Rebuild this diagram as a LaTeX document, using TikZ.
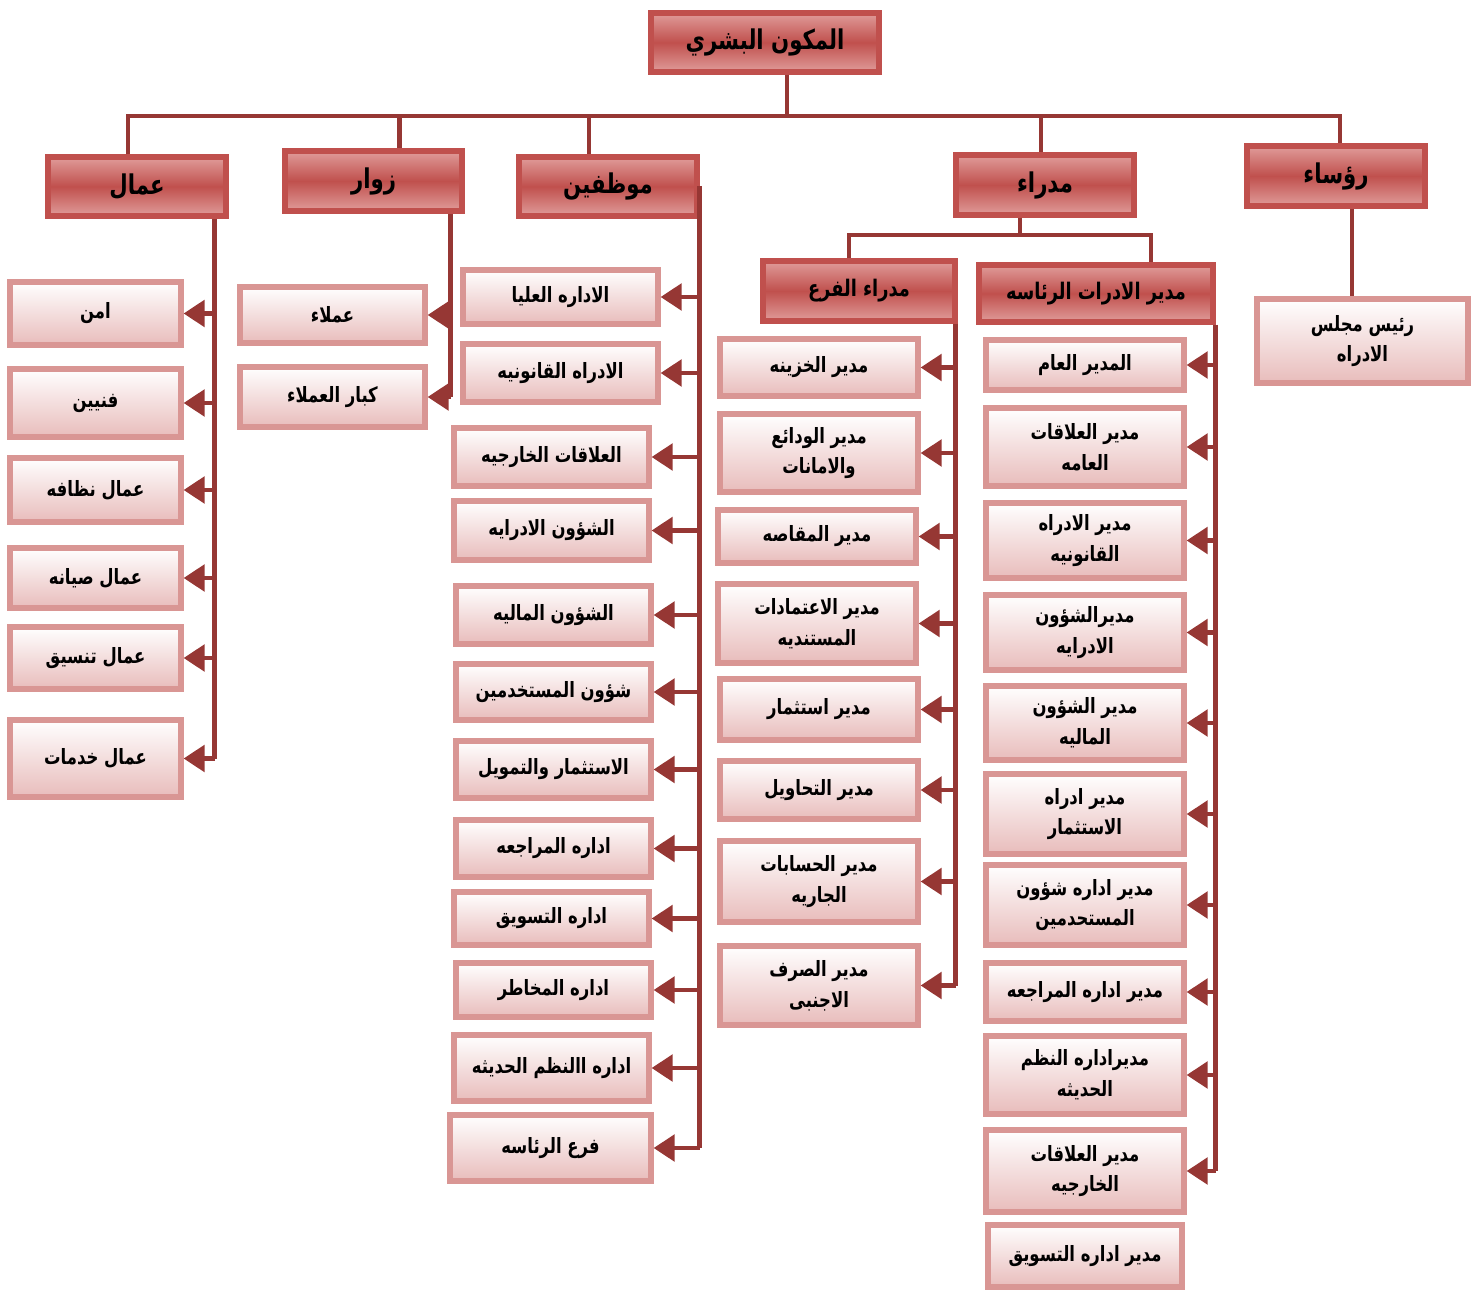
\documentclass[tikz,border=0pt]{standalone}
\usepackage{fontspec}
\newfontfamily\arabicfont[Script=Arabic, FakeStretch=0.78]{DejaVu Sans}
\TeXXeTstate=1
\usetikzlibrary{arrows.meta, calc, positioning}
\definecolor{HeadRed}{RGB}{192,80,77}
\definecolor{HeadLight}{RGB}{224,156,154}
\definecolor{LinkRed}{RGB}{150,55,52}
\definecolor{ChildEdge}{RGB}{217,150,148}
\definecolor{ChildFill}{RGB}{232,188,187}
\newcommand{\rtl}[1]{\beginR #1\endR}

\tikzset{
  head/.style={draw=HeadRed, line width=3pt, top color=HeadLight, bottom color=HeadLight,
    middle color=HeadRed, align=center, inner sep=1pt,
    font=\arabicfont\bfseries\fontsize{15.5}{20}\selectfont},
  subhead/.style={head, font=\arabicfont\bfseries\fontsize{13}{16}\selectfont},
  child/.style={draw=ChildEdge, line width=3pt, top color=white, bottom color=ChildFill,
    align=center, inner sep=1pt,
    font=\arabicfont\bfseries\fontsize{12}{17.5}\selectfont},
  sz/.style 2 args={minimum width=#1*0.02cm, minimum height=#2*0.02cm},
  link/.style={LinkRed, line width=2.8pt, line join=miter},
  arrowlink/.style={link, -{Triangle[length=12pt,width=15pt]}}
}

\begin{document}
\begin{tikzpicture}[x=0.02cm, y=-0.02cm]

    \useasboundingbox (0,0) rectangle (1481,1290);

    % top box
    \node[head, sz={228}{59}] (root) at (765,42.5) {\rtl{المكون البشري}};

    % first row
    \node[head, sz={178}{59}] (amal) at (137,186.5) {\rtl{عمال}};
    \node[head, sz={177}{60}] (zuwar) at (373.5,181) {\rtl{زوار}};
    \node[head, sz={178}{59}] (muwaz) at (608,186.5) {\rtl{موظفين}};
    \node[head, sz={178}{60}] (mudara) at (1045,185) {\rtl{مدراء}};
    \node[head, sz={178}{60}] (ruasa) at (1336,176) {\rtl{رؤساء}};

    % managers split
    \node[subhead, sz={192}{60}] (far) at (859,291) {\rtl{مدراء الفرع}};
    \node[subhead, sz={234}{57}] (riasa) at (1096,293.5) {\rtl{مدير الادرات الرئاسه}};

    % heads
    \node[child, sz={211}{84}] (raees) at (1362.5,341) {\rtl{رئيس مجلس}\\\rtl{الادراه}};

    % workers
    \node[child, sz={171}{63}] (amn) at (95.5,313.5) {\rtl{امن}};
    \node[child, sz={171}{68}] (fanni) at (95.5,403) {\rtl{فنيين}};
    \node[child, sz={171}{64}] (nazafa) at (95.5,490) {\rtl{عمال نظافه}};
    \node[child, sz={171}{60}] (siyana) at (95.5,578) {\rtl{عمال صيانه}};
    \node[child, sz={171}{62}] (tanseeq) at (95.5,658) {\rtl{عمال تنسيق}};
    \node[child, sz={171}{77}] (khadamat) at (95.5,758.5) {\rtl{عمال خدمات}};

    % visitors
    \node[child, sz={185}{56}] (umala) at (332.5,315) {\rtl{عملاء}};
    \node[child, sz={185}{60}] (kibar) at (332.5,397) {\rtl{كبار العملاء}};

    % staff
    \node[child, sz={195}{54}] (ulya) at (560.5,297) {\rtl{الاداره العليا}};
    \node[child, sz={195}{58}] (qanun) at (560.5,373) {\rtl{الادراه القانونيه}};
    \node[child, sz={195}{58}] (kharij) at (551.5,457) {\rtl{العلاقات الخارجيه}};
    \node[child, sz={195}{59}] (idari) at (551.5,530.5) {\rtl{الشؤون الادرايه}};
    \node[child, sz={195}{58}] (mali) at (553.5,615) {\rtl{الشؤون الماليه}};
    \node[child, sz={195}{56}] (mustakh) at (553.5,692) {\rtl{شؤون المستخدمين}};
    \node[child, sz={195}{57}] (tamweel) at (553.5,769.5) {\rtl{الاستثمار والتمويل}};
    \node[child, sz={195}{57}] (muraja) at (553.5,848.5) {\rtl{اداره المراجعه}};
    \node[child, sz={195}{53}] (taswiq) at (551.5,918.5) {\rtl{اداره التسويق}};
    \node[child, sz={195}{54}] (makhatir) at (553.5,990) {\rtl{اداره المخاطر}};
    \node[child, sz={195}{66}] (nuzum) at (551.5,1068) {\rtl{اداره االنظم الحديثه}};
    \node[child, sz={201}{66}] (far3) at (550.5,1148) {\rtl{فرع الرئاسه}};

    % branch managers
    \node[child, sz={198}{57}] (khazina) at (819,367.5) {\rtl{مدير الخزينه}};
    \node[child, sz={198}{78}] (wadai) at (819,453) {\rtl{مدير الودائع}\\\rtl{والامانات}};
    \node[child, sz={198}{53}] (muqassa) at (817,536.5) {\rtl{مدير المقاصه}};
    \node[child, sz={198}{79}] (itimad) at (817,623.5) {\rtl{مدير الاعتمادات}\\\rtl{المستنديه}};
    \node[child, sz={198}{61}] (istithmar) at (819,709.5) {\rtl{مدير استثمار}};
    \node[child, sz={198}{58}] (tahawil) at (819,790) {\rtl{مدير التحاويل}};
    \node[child, sz={198}{81}] (hisabat) at (819,881.5) {\rtl{مدير الحسابات}\\\rtl{الجاريه}};
    \node[child, sz={198}{79}] (sarf) at (819,985.5) {\rtl{مدير الصرف}\\\rtl{الاجنبى}};

    % head office managers
    \node[child, sz={198}{50}] (aam) at (1085,365) {\rtl{المدير العام}};
    \node[child, sz={198}{78}] (alaqat) at (1085,447) {\rtl{مدير العلاقات}\\\rtl{العامه}};
    \node[child, sz={198}{75}] (qanuni) at (1085,540.5) {\rtl{مدير الادراه}\\\rtl{القانونيه}};
    \node[child, sz={198}{75}] (shuun) at (1085,632.5) {\rtl{مديرالشؤون}\\\rtl{الادرايه}};
    \node[child, sz={198}{74}] (maliya) at (1085,723) {\rtl{مدير الشؤون}\\\rtl{الماليه}};
    \node[child, sz={198}{80}] (istithmar2) at (1085,814) {\rtl{مدير ادراه}\\\rtl{الاستثمار}};
    \node[child, sz={198}{80}] (mustahdim) at (1085,905) {\rtl{مدير اداره شؤون}\\\rtl{المستحدمين}};
    \node[child, sz={198}{58}] (muraja2) at (1085,992) {\rtl{مدير اداره المراجعه}};
    \node[child, sz={198}{78}] (nuzum2) at (1085,1075) {\rtl{مديراداره النظم}\\\rtl{الحديثه}};
    \node[child, sz={198}{82}] (kharij2) at (1085,1171) {\rtl{مدير العلاقات}\\\rtl{الخارجيه}};
    \node[child, sz={194}{62}] (taswiq2) at (1085,1256) {\rtl{مدير اداره التسويق}};

    % main bus
    \coordinate (bus) at (787,116);
    \coordinate (amaltop) at ($(amal.north)+(-9,0)$);
    \coordinate (ruasatop) at ($(ruasa.north)+(4,0)$);
    \draw[link] (root.south -| bus) -- (bus);
    \draw[link] (amaltop) -- (amaltop |- bus) -- (ruasatop |- bus) -- (ruasatop);
    \foreach \n/\dx in {zuwar/26, muwaz/-19, mudara/-4}{
        \coordinate (top) at ($(\n.north)+(\dx,0)$);
        \draw[link] (top |- bus) -- (top);
    }

    % heads line
    \coordinate (ruasadrop) at ($(ruasa.south)+(16,0)$);
    \draw[link] (ruasadrop) -- (ruasadrop |- raees.north);

    % managers bus
    \coordinate (mbus) at (1020,235);
    \coordinate (fartop) at ($(far.north)+(-10,0)$);
    \coordinate (riasatop) at ($(riasa.north)+(55,0)$);
    \draw[link] (mudara.south -| mbus) -- (mbus);
    \draw[link] (fartop) -- (fartop |- mbus) -- (riasatop |- mbus) -- (riasatop);

    % side buses
    \coordinate (amalbus) at ($(amal.south east)+(-14,0)$);
    \draw[link] (amalbus) -- (amalbus |- khadamat.east);
    \foreach \n in {amn, fanni, nazafa, siyana, tanseeq, khadamat}
        \draw[arrowlink] (amalbus |- \n.east) -- (\n.east);

    \coordinate (zuwarbus) at ($(zuwar.south east)+(-14,0)$);
    \draw[link] (zuwarbus) -- (zuwarbus |- kibar.east);
    \foreach \n in {umala, kibar}
        \draw[arrowlink] (zuwarbus |- \n.east) -- (\n.east);

    \coordinate (muwazbus) at (muwaz.east);
    \draw[link] (muwazbus) -- (muwazbus |- far3.east);
    \foreach \n in {ulya, qanun, kharij, idari, mali, mustakh, tamweel, muraja, taswiq, makhatir, nuzum, far3}
        \draw[arrowlink] (muwazbus |- \n.east) -- (\n.east);

    \coordinate (farbus) at ($(far.south east)+(-2,0)$);
    \draw[link] (farbus) -- (farbus |- sarf.east);
    \foreach \n in {khazina, wadai, muqassa, itimad, istithmar, tahawil, hisabat, sarf}
        \draw[arrowlink] (farbus |- \n.east) -- (\n.east);

    \coordinate (riasabus) at (riasa.south east);
    \draw[link] (riasabus) -- (riasabus |- kharij2.east);
    \foreach \n in {aam, alaqat, qanuni, shuun, maliya, istithmar2, mustahdim, muraja2, nuzum2, kharij2}
        \draw[arrowlink] (riasabus |- \n.east) -- (\n.east);

\end{tikzpicture}
\end{document}
